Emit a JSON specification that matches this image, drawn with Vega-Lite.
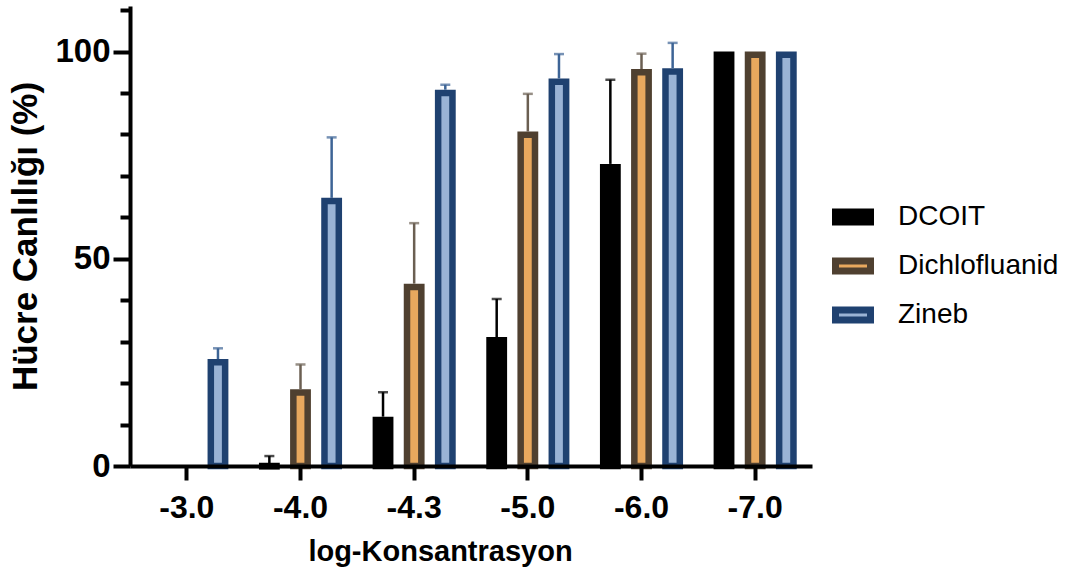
{
  "$schema": "https://vega.github.io/schema/vega-lite/v6.json",
  "width": 682,
  "height": 460,
  "autosize": {"type": "none"},
  "padding": {"left": 130, "top": 6, "right": 266, "bottom": 110},
  "background": "white",
  "config": {"view": {"stroke": null}, "font": "Liberation Sans"},
  "data": {
    "values": [
      {"conc": "-3.0", "compound": "DCOIT", "mean": 0, "upper": null},
      {"conc": "-3.0", "compound": "Dichlofluanid", "mean": 0, "upper": null},
      {"conc": "-3.0", "compound": "Zineb", "mean": 25.8, "upper": 28.4},
      {"conc": "-4.0", "compound": "DCOIT", "mean": 0.7, "upper": 2.4},
      {"conc": "-4.0", "compound": "Dichlofluanid", "mean": 18.5, "upper": 24.5},
      {"conc": "-4.0", "compound": "Zineb", "mean": 64.7, "upper": 79.3},
      {"conc": "-4.3", "compound": "DCOIT", "mean": 11.9, "upper": 17.8},
      {"conc": "-4.3", "compound": "Dichlofluanid", "mean": 44.0, "upper": 58.6},
      {"conc": "-4.3", "compound": "Zineb", "mean": 90.8, "upper": 92.0},
      {"conc": "-5.0", "compound": "DCOIT", "mean": 31.1, "upper": 40.3},
      {"conc": "-5.0", "compound": "Dichlofluanid", "mean": 80.7, "upper": 89.8},
      {"conc": "-5.0", "compound": "Zineb", "mean": 93.5, "upper": 99.4},
      {"conc": "-6.0", "compound": "DCOIT", "mean": 72.9, "upper": 93.2},
      {"conc": "-6.0", "compound": "Dichlofluanid", "mean": 95.8, "upper": 99.5},
      {"conc": "-6.0", "compound": "Zineb", "mean": 96.0, "upper": 102.1},
      {"conc": "-7.0", "compound": "DCOIT", "mean": 100, "upper": null},
      {"conc": "-7.0", "compound": "Dichlofluanid", "mean": 100, "upper": null},
      {"conc": "-7.0", "compound": "Zineb", "mean": 100, "upper": null}
    ]
  },
  "encoding": {
    "x": {
      "field": "conc",
      "type": "nominal",
      "sort": ["-3.0", "-4.0", "-4.3", "-5.0", "-6.0", "-7.0"],
      "scale": {"paddingInner": 0, "paddingOuter": 0},
      "axis": {
        "title": "log-Konsantrasyon",
        "titleFontSize": 29,
        "titleFontWeight": "bold",
        "titleColor": "black",
        "titlePadding": 14,
        "titleX": 310,
        "titleAlign": "center",
        "labelAngle": 0,
        "labelFontSize": 32,
        "labelFontWeight": "bold",
        "labelColor": "black",
        "labelPadding": 12,
        "tickSize": 14,
        "tickWidth": 4,
        "tickColor": "black",
        "domainWidth": 4,
        "domainColor": "black",
        "grid": false,
        "zindex": 1
      }
    },
    "xOffset": {
      "field": "compound",
      "type": "nominal",
      "sort": ["DCOIT", "Dichlofluanid", "Zineb"],
      "scale": {"paddingInner": 0.54, "paddingOuter": 0.595}
    }
  },
  "layer": [
    {
      "transform": [{"filter": "datum.mean > 0.1"}],
      "mark": {"type": "bar", "strokeWidth": 6.5, "yOffset": 3.25},
      "encoding": {
        "y": {
          "field": "mean",
          "type": "quantitative",
          "stack": null,
          "scale": {"domain": [0, 111], "nice": false},
          "axis": {
            "values": [0, 5, 10, 15, 20, 25, 30, 35, 40, 45, 50, 55, 60, 65, 70, 75, 80, 85, 90, 95, 100, 105, 110],
            "labelExpr": "datum.value % 50 === 0 ? datum.label : ''",
            "title": "Hücre Canlılığı (%)",
            "titleFontSize": 35,
            "titleFontWeight": "bold",
            "titleColor": "black",
            "titlePadding": 11,
            "labelFontSize": 33,
            "labelFontWeight": "bold",
            "labelColor": "black",
            "labelPadding": 3,
            "tickSize": {"condition": {"test": "datum.value % 50 === 0", "value": 17}, "value": 10},
            "tickWidth": 4,
            "tickColor": "black",
            "domainWidth": 4,
            "domainColor": "black",
            "grid": false,
            "zindex": 1
          }
        },
        "fill": {
          "field": "compound",
          "type": "nominal",
          "scale": {"domain": ["DCOIT", "Dichlofluanid", "Zineb"], "range": ["#000000", "#e8a85e", "#9ab3d5"]},
          "legend": {
            "title": null,
            "orient": "none",
            "legendX": 702,
            "legendY": 190,
            "padding": 0,
            "symbolType": "M-1,-0.286H1V0.286H-1Z",
            "symbolSize": 1225,
            "symbolStrokeWidth": 7,
            "labelFontSize": 28,
            "labelColor": "black",
            "labelOffset": 24,
            "labelLimit": 0,
            "rowPadding": 8
          }
        },
        "stroke": {
          "field": "compound",
          "type": "nominal",
          "scale": {"domain": ["DCOIT", "Dichlofluanid", "Zineb"], "range": ["#000000", "#4f4030", "#1f4170"]},
          "legend": {
            "title": null,
            "orient": "none",
            "legendX": 702,
            "legendY": 190,
            "padding": 0,
            "symbolType": "M-1,-0.286H1V0.286H-1Z",
            "symbolSize": 1225,
            "symbolStrokeWidth": 7,
            "labelFontSize": 28,
            "labelColor": "black",
            "labelOffset": 24,
            "labelLimit": 0,
            "rowPadding": 8
          }
        }
      }
    },
    {
      "transform": [{"filter": "datum.upper != null"}],
      "mark": {"type": "rule", "strokeWidth": 2.5},
      "encoding": {
        "y": {"field": "mean", "type": "quantitative"},
        "y2": {"field": "upper"},
        "color": {
          "field": "compound",
          "type": "nominal",
          "scale": {"domain": ["DCOIT", "Dichlofluanid", "Zineb"], "range": ["#000000", "#6b5f52", "#3d6496"]},
          "legend": null
        }
      }
    },
    {
      "transform": [{"filter": "datum.upper != null"}],
      "mark": {"type": "tick", "thickness": 2.5, "size": 10, "orient": "horizontal"},
      "encoding": {
        "y": {"field": "upper", "type": "quantitative"},
        "color": {
          "field": "compound",
          "type": "nominal",
          "scale": {"domain": ["DCOIT", "Dichlofluanid", "Zineb"], "range": ["#000000", "#6b5f52", "#3d6496"]},
          "legend": null
        }
      }
    }
  ]
}
